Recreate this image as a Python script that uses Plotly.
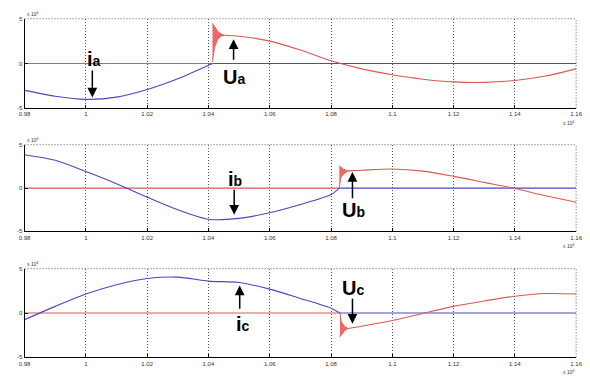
import plotly.graph_objects as go

# ---- axis settings (time axis in units of 1e4, values in units of 1e4) ----
X_MIN, X_MAX = 0.98, 1.16
x_ticks = [0.98, 1.00, 1.02, 1.04, 1.06, 1.08, 1.10, 1.12, 1.14, 1.16]
x_tick_text = ["0.98", "1", "1.02", "1.04", "1.06", "1.08", "1.1", "1.12", "1.14", "1.16"]
y_ticks = [-5, 0, 5]
y_tick_text = ["-5", "0", "5"]

# ---- phase a ----
ia_t = [0.98, 0.99, 1.00, 1.01, 1.02, 1.03, 1.0413]
ia_v = [-3.0, -3.65, -4.0, -3.75, -2.9, -1.7, 0.0]
ua_t = [1.0452, 1.05, 1.06, 1.07, 1.08, 1.09, 1.10, 1.11, 1.12, 1.13, 1.14, 1.15, 1.16]
ua_v = [3.15, 3.05, 2.5, 1.5, 0.3, -0.6, -1.25, -1.75, -2.05, -2.1, -1.9, -1.4, -0.6]
ua_ring_t = [1.0413, 1.0420, 1.0430, 1.0441, 1.0452]
ua_ring_hi = [4.5, 4.15, 3.6, 3.3, 3.15]
ua_ring_lo = [0.15, 1.8, 2.7, 3.05, 3.15]

# ---- phase b ----
ib_t = [0.98, 0.99, 1.00, 1.01, 1.02, 1.03, 1.04, 1.05, 1.06, 1.07, 1.08, 1.0827]
ib_v = [3.85, 3.2, 1.9, 0.5, -1.05, -2.5, -3.6, -3.5, -2.85, -1.9, -0.75, 0.0]
ub_t = [1.0856, 1.09, 1.10, 1.11, 1.12, 1.13, 1.14, 1.15, 1.16]
ub_v = [1.98, 2.05, 2.2, 1.95, 1.35, 0.65, -0.05, -0.9, -1.65]
ub_ring_t = [1.0827, 1.0832, 1.0842, 1.0856]
ub_ring_hi = [2.55, 2.4, 2.15, 1.98]
ub_ring_lo = [0.0, 1.2, 1.65, 1.98]

# ---- phase c ----
ic_t = [0.98, 0.99, 1.00, 1.01, 1.02, 1.03, 1.04, 1.05, 1.06, 1.07, 1.08, 1.0829]
ic_v = [-0.75, 0.75, 2.15, 3.2, 3.9, 4.05, 3.6, 3.45, 2.7, 1.65, 0.55, 0.0]
uc_t = [1.0856, 1.09, 1.10, 1.11, 1.12, 1.13, 1.14, 1.15, 1.16]
uc_v = [-1.75, -1.5, -0.85, -0.05, 0.75, 1.35, 1.9, 2.2, 2.15]
uc_ring_t = [1.0829, 1.0834, 1.0844, 1.0856]
uc_ring_hi = [0.0, -1.0, -1.5, -1.75]
uc_ring_lo = [-2.7, -2.45, -2.0, -1.75]

# ---- labels: (text, sub, x, y) and arrows: (x, y_tail, y_head) ----
i_labels = [("i", "a", 1.0027, 0.55), ("i", "b", 1.0486, 1.05), ("i", "c", 1.0512, -1.2)]
u_labels = [("U", "a", 1.0482, -1.5), ("U", "b", 1.0872, -2.55), ("U", "c", 1.0872, 2.8)]
i_arrows = [(1.0021, -0.6, -3.8), (1.0484, -0.03, -3.1), (1.0502, 0.3, 3.1)]
u_arrows = [(1.0482, 0.25, 2.7), (1.0870, -1.36, 1.85), (1.0870, 1.78, -1.2)]

BLUE = "rgb(72,72,192)"
RED = "rgb(222,86,86)"
RING = "rgba(232,80,80,0.85)"
GRID = "#555"

phases = [
    (ia_t, ia_v, ua_t, ua_v, ua_ring_t, ua_ring_hi, ua_ring_lo),
    (ib_t, ib_v, ub_t, ub_v, ub_ring_t, ub_ring_hi, ub_ring_lo),
    (ic_t, ic_v, uc_t, uc_v, uc_ring_t, uc_ring_hi, uc_ring_lo),
]

fig = go.Figure()
domains = [(0.7177, 0.9578), (0.3879, 0.6200), (0.0501, 0.2876)]

for k, (it, iv, ut, uv, rt, rhi, rlo) in enumerate(phases):
    sfx = "" if k == 0 else str(k + 1)
    xa, ya = "x" + sfx, "y" + sfx
    t_sw = it[-1]
    # voltage is zero until the switch opens
    fig.add_trace(go.Scatter(x=[X_MIN, t_sw], y=[0, 0], mode="lines",
                             line=dict(color=RED, width=1.2), xaxis=xa, yaxis=ya))
    # current after the switch opens
    fig.add_trace(go.Scatter(x=[t_sw, X_MAX], y=[0, 0], mode="lines",
                             line=dict(color=BLUE, width=1.2), xaxis=xa, yaxis=ya))
    # current before opening
    fig.add_trace(go.Scatter(x=it, y=iv, mode="lines",
                             line=dict(color=BLUE, width=1.1, shape="spline", smoothing=0.8),
                             xaxis=xa, yaxis=ya))
    # switching transient (ringing envelope)
    fig.add_trace(go.Scatter(x=rt + rt[::-1], y=rhi + rlo[::-1], mode="lines",
                             fill="toself", fillcolor=RING,
                             line=dict(color=RED, width=0.8), xaxis=xa, yaxis=ya))
    # recovery voltage
    fig.add_trace(go.Scatter(x=ut, y=uv, mode="lines",
                             line=dict(color=RED, width=1.1, shape="spline", smoothing=0.8),
                             xaxis=xa, yaxis=ya))

axis_font = dict(family="Liberation Sans, Arial, sans-serif", size=6, color="#333")
small_font = dict(family="Liberation Sans, Arial", size=5, color="#333")
lab_font = dict(family="Liberation Sans Narrow, Liberation Sans, Arial", size=20, color="black")
layout = dict(width=590, height=379, margin=dict(l=0, r=0, t=0, b=0),
              paper_bgcolor="white", plot_bgcolor="white", showlegend=False)

annotations = []
shapes = []
for k, (y0, y1) in enumerate(domains):
    sfx = "" if k == 0 else str(k + 1)
    layout["xaxis" + sfx] = dict(
        domain=[0.0322, 0.9864], range=[X_MIN, X_MAX], anchor="y" + sfx,
        tickvals=x_ticks, ticktext=x_tick_text, ticks="inside", ticklen=3,
        tickcolor="black", showline=True, linecolor="black", linewidth=1,
        showgrid=True, gridcolor=GRID, griddash="1px,2px", gridwidth=1,
        zeroline=False, tickfont=axis_font)
    layout["yaxis" + sfx] = dict(
        domain=[y0, y1], range=[-5, 5], anchor="x" + sfx,
        tickvals=y_ticks, ticktext=y_tick_text, ticks="inside", ticklen=3,
        tickcolor="black", showline=True, linecolor="black", linewidth=1,
        showgrid=False, zeroline=False, tickfont=axis_font)
    xr, yr = "x" + sfx, "y" + sfx
    # dotted top and right frame edges
    shapes.append(dict(type="line", xref=xr + " domain", yref=yr + " domain",
                       x0=0, x1=1, y0=1, y1=1,
                       line=dict(color=GRID, width=1, dash="1px,2px")))
    shapes.append(dict(type="line", xref=xr + " domain", yref=yr + " domain",
                       x0=1, x1=1, y0=0, y1=1,
                       line=dict(color=GRID, width=1, dash="1px,2px")))
    # axis multipliers
    annotations.append(dict(text="x 10<sup>4</sup>", xref=xr + " domain", yref=yr + " domain",
                            x=0, y=1, xanchor="left", yanchor="bottom", showarrow=False,
                            font=small_font))
    annotations.append(dict(text="x 10<sup>4</sup>", xref=xr + " domain", yref=yr + " domain",
                            x=1, y=0, xanchor="right", yanchor="top", yshift=-10,
                            showarrow=False, font=small_font))
    # phase labels
    for (main, sub, lx, ly) in [i_labels[k], u_labels[k]]:
        annotations.append(dict(
            text="<b>%s<span style='font-size:14px'>%s</span></b>" % (main, sub),
            xref=xr, yref=yr, x=lx, y=ly, showarrow=False, font=lab_font))
    for (ax_, yt, yh) in [i_arrows[k], u_arrows[k]]:
        annotations.append(dict(
            text="", xref=xr, yref=yr, x=ax_, y=yh, axref=xr, ayref=yr, ax=ax_, ay=yt,
            showarrow=True, arrowhead=2, arrowsize=1.3, arrowwidth=1.5,
            arrowcolor="black", standoff=0, startstandoff=0))

layout["annotations"] = annotations
layout["shapes"] = shapes
fig.update_layout(**layout)
fig.write_html("out.html")
